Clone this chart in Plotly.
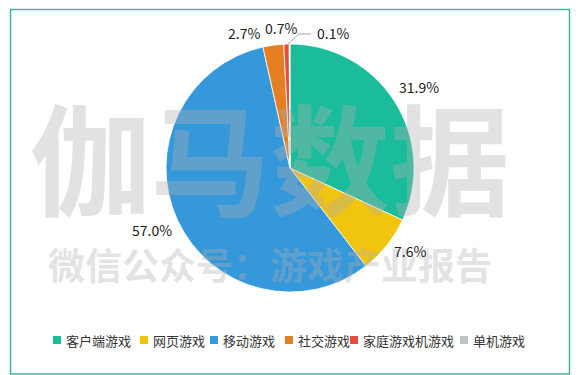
import plotly.graph_objects as go

categories = ["客户端游戏", "网页游戏", "移动游戏", "社交游戏", "家庭游戏机游戏", "单机游戏"]
values = [31.9, 7.6, 57.0, 2.7, 0.7, 0.1]
colors = ["#1abc9c", "#f1c40f", "#3498db", "#e67e22", "#e74c3c", "#bdc3c7"]

W, H = 581, 375
OFF = 8  # page body margin
FONT = "Noto Sans CJK SC, Microsoft YaHei, sans-serif"


def px(x):
    return (x - OFF) / W


def py(y):
    return 1 - (y - OFF) / H


cx, cy, r = 290, 168, 124

fig = go.Figure()
fig.add_trace(go.Pie(
    labels=categories,
    values=values,
    marker=dict(colors=colors, line=dict(color="white", width=0.8)),
    sort=False,
    direction="clockwise",
    rotation=0,
    textposition="none",
    showlegend=False,
    automargin=False,
    domain=dict(x=[px(cx - r), px(cx + r)], y=[py(cy + r), py(cy - r)]),
    hoverinfo="label+percent",
))

annotations = []
shapes = []

# watermark
annotations.append(dict(text="伽马数据", x=px(270), y=py(155), xref="paper", yref="paper",
                        showarrow=False, xanchor="center", yanchor="middle",
                        font=dict(family=FONT, size=120, color="rgba(175,175,175,0.36)", weight="bold")))
annotations.append(dict(text="微信公众号：游戏产业报告", x=px(270), y=py(264), xref="paper", yref="paper",
                        showarrow=False, xanchor="center", yanchor="middle",
                        font=dict(family=FONT, size=37, color="rgba(175,175,175,0.36)", weight="bold")))

# data labels (offsets from pie centre, in pixels)
label_offsets = [(129, -81), (120, 83), (-138, 62), (-46, -135), (-9, -140), (43, -135)]
for v, (dx, dy) in zip(values, label_offsets):
    annotations.append(dict(text=f"{v:.1f}%", x=px(cx + dx), y=py(cy + dy), xref="paper", yref="paper",
                            showarrow=False, xanchor="center", yanchor="middle",
                            font=dict(family=FONT, size=14, color="#222222")))
# leader line for the smallest slice
shapes.append(dict(type="path", xref="paper", yref="paper",
                   path=f"M{px(288)},{py(44)} L{px(299)},{py(34)} L{px(311)},{py(34)}",
                   line=dict(color="#a6a6a6", width=1)))

# custom legend
legend_x = [53, 140, 210, 285, 350, 460]
legend_y = 340
for name, col, lx in zip(categories, colors, legend_x):
    shapes.append(dict(type="rect", xref="paper", yref="paper",
                       x0=px(lx), x1=px(lx + 8), y0=py(legend_y + 4), y1=py(legend_y - 4),
                       fillcolor=col, line=dict(width=0)))
    annotations.append(dict(text=name, x=px(lx + 11), y=py(legend_y), xref="paper", yref="paper",
                            showarrow=False, xanchor="left", yanchor="middle",
                            font=dict(family=FONT, size=13, color="#333333")))

# border
shapes.append(dict(type="rect", xref="paper", yref="paper",
                   x0=px(10.5), x1=px(569.5), y0=py(374), y1=py(9.5),
                   line=dict(color="#3cb8a2", width=1.5), fillcolor="rgba(0,0,0,0)"))

fig.update_layout(
    width=W, height=H,
    margin=dict(l=0, r=0, t=0, b=0, autoexpand=False),
    paper_bgcolor="white", plot_bgcolor="white",
    annotations=annotations, shapes=shapes,
    font=dict(family=FONT),
)

fig.write_html("out.html")
